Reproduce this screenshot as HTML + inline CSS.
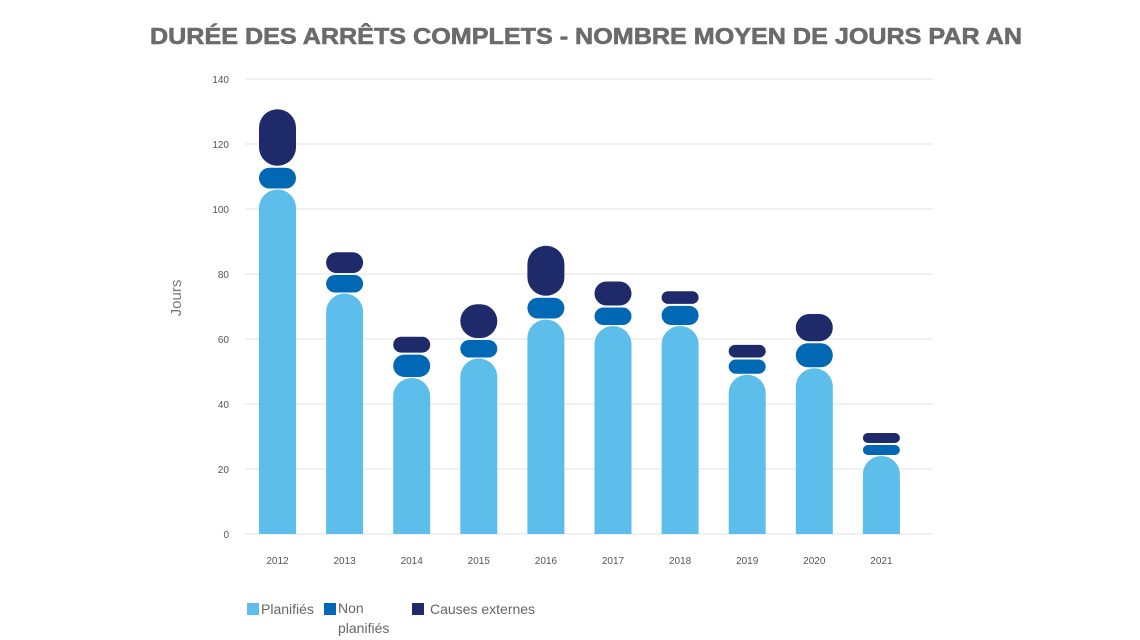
<!DOCTYPE html>
<html><head><meta charset="utf-8"><style>
body{margin:0;background:#fff;}
svg{display:block;font-family:"Liberation Sans",sans-serif;}
</style></head><body>
<svg id="chart" width="1140" height="640" viewBox="0 0 1140 640" xmlns="http://www.w3.org/2000/svg">
<text x="150" y="44" textLength="872" lengthAdjust="spacingAndGlyphs" font-size="23" font-weight="bold" fill="#6b6b6b" stroke="#6b6b6b" stroke-width="0.6">DURÉE DES ARRÊTS COMPLETS - NOMBRE MOYEN DE JOURS PAR AN</text>
<text transform="translate(181,298) rotate(-90)" text-anchor="middle" font-size="15" fill="#777">Jours</text>
<g id="grid"></g><g id="bars"></g><g id="xlabels"></g>
<g font-size="14" fill="#666">
<rect x="247" y="603" width="12" height="12" fill="#5DBDEB"/>
<text x="261" y="614">Planifiés</text>
<rect x="324" y="603" width="12" height="12" fill="#0068B4"/>
<text x="338" y="613">Non</text>
<text x="338" y="633">planifiés</text>
<rect x="412" y="603" width="12" height="12" fill="#1F2A6B"/>
<text x="430" y="614">Causes externes</text>
</g>
</svg>
<script>
const years=["2012","2013","2014","2015","2016","2017","2018","2019","2020","2021"];
const planifies=[106,74,48,54,66,64,64,49,51,24];
const nonPlanifies=[7,6,7.5,6,7,6,6.5,5,8,3.7];
const causesExternes=[18,7,5.5,11,16,8,4.5,4.5,9,3.7];
const yTicks=[0,20,40,60,80,100,120,140];
const NS="http://www.w3.org/2000/svg";
const y0=534,yScale=455/140,x0=245,x1=933,bw=37;
const y=v=>y0-v*yScale, xc=i=>277.5+i*67.1;
function mk(t,a,p){const e=document.createElementNS(NS,t);for(const k in a)e.setAttribute(k,a[k]);p.appendChild(e);return e;}
const grid=document.getElementById('grid');
yTicks.forEach(t=>{
 const l=mk('line',{x1:x0,x2:x1,y1:y(t),y2:y(t),stroke:'#e3e3e3','stroke-width':1},grid);
 
 
 const tx=mk('text',{x:229,y:y(t)+4,'text-anchor':'end','font-size':10,fill:'#555'},grid);
 tx.textContent=t;
 
 
});
const bars=document.getElementById('bars'),xl=document.getElementById('xlabels');
function pill(x,top,bot,fill,sqBottom,name){
 const h=bot-top,r=Math.min(h/2,bw/2),w=bw;
 let d;
 if(sqBottom){d=`M${x},${bot}V${top+r}A${r},${r} 0 0 1 ${x+r},${top}H${x+w-r}A${r},${r} 0 0 1 ${x+w},${top+r}V${bot}Z`;}
 else{d=`M${x},${top+r}A${r},${r} 0 0 1 ${x+r},${top}H${x+w-r}A${r},${r} 0 0 1 ${x+w},${top+r}V${bot-r}A${r},${r} 0 0 1 ${x+w-r},${bot}H${x+r}A${r},${r} 0 0 1 ${x},${bot-r}Z`;}
 const p=mk('path',{d:d,fill:fill},bars);
 
 
}
years.forEach((yr,i)=>{
 const x=xc(i)-bw/2;
 const a=planifies[i],b=a+nonPlanifies[i],c=b+causesExternes[i];
 pill(x,y(a),y0,'#5DBDEB',true,'bar-planifies-'+yr);
 pill(x,y(b)+1,y(a)-1,'#0068B4',false,'bar-non-planifies-'+yr);
 pill(x,y(c)+1,y(b)-1,'#1F2A6B',false,'bar-causes-externes-'+yr);
 const t=mk('text',{x:xc(i),y:564,'text-anchor':'middle','font-size':10,fill:'#555'},xl);
 t.textContent=yr;
 
 
});
</script>
</body></html>
